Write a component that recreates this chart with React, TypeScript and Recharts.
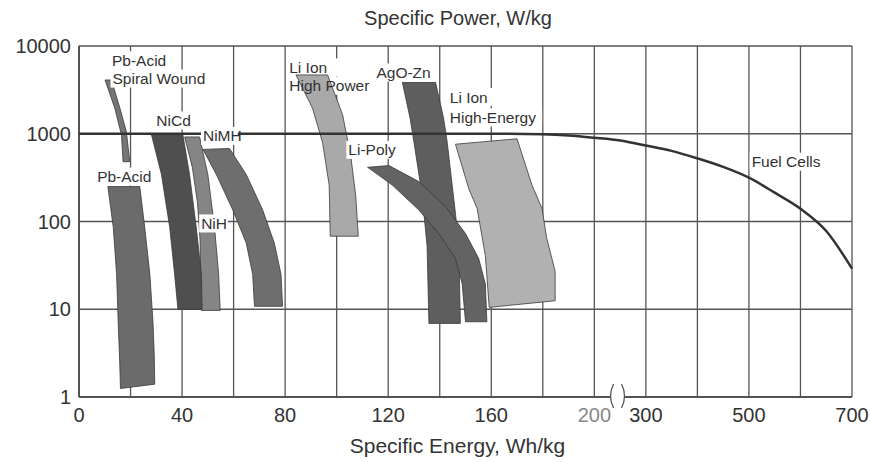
import { ScatterChart, Scatter, XAxis, YAxis, CartesianGrid, ReferenceDot, Customized } from 'recharts';

const FONT = '"Liberation Sans", Arial, Helvetica, sans-serif';
const INK = '#333';

// Band outlines: [specific energy Wh/kg, specific power W/kg],
// left edge top->bottom, then right edge bottom->top
const pbAcidSpiral = [[10.1, 4100], [13.9, 1950], [16.5, 960], [17.1, 480], [19.7, 480], [18.4, 1050], [15.9, 1950], [12.6, 4100]];
const pbAcid = [[11.2, 250], [13.3, 86], [14.6, 25], [15.2, 7.2], [15.8, 2.5], [16.1, 1.25], [29.4, 1.4], [29.2, 3], [28.7, 7.2], [27.5, 25], [25.5, 86], [23.6, 250]];
const niH = [[41.0, 920], [44.0, 412], [46.0, 163], [47.0, 60], [47.5, 9.7], [54.8, 9.7], [54.2, 25], [52.6, 86], [50.0, 344], [46.8, 920]];
const niCd = [[28.1, 980], [32.0, 344], [35.2, 86], [37.1, 25], [38.4, 10], [47.8, 10], [47.5, 25], [45.5, 86], [42.9, 344], [40.3, 980]];
const niMH = [[48.1, 663], [53.3, 344], [59.7, 135], [64.9, 57], [67.4, 25], [68.1, 10.8], [79.0, 10.8], [78.4, 25], [75.8, 57], [71.3, 135], [64.9, 344], [58.4, 680]];
const liIonPower = [[84.2, 4680], [90.6, 1960], [94.5, 800], [97.1, 260], [97.5, 68], [108.4, 68], [107.4, 196], [105.5, 550], [102.3, 1650], [96.5, 4680]];
const agoZn = [[125.5, 3840], [128.5, 1500], [130.0, 800], [133.2, 196], [135.1, 52], [135.8, 6.9], [148.0, 6.9], [147.4, 52], [146.1, 124], [142.9, 800], [141.5, 1500], [138.4, 3840]];
const liPoly = [[112.0, 415], [121.6, 260], [131.9, 135], [139.6, 73], [146.1, 38], [148.7, 19.5], [150.0, 7.2], [158.3, 7.2], [157.7, 19.5], [155.1, 38], [150.0, 73], [142.2, 148], [131.9, 285], [120.3, 434]];
const liIonEnergy = [[146.1, 760], [151.3, 235], [154.5, 141], [157.7, 41], [159.2, 10.5], [184.8, 12.5], [184.8, 27], [181.5, 65], [179.7, 141], [175.8, 260], [170.0, 876]];

const fuelCellEnergy = [0, 160, 180, 190, 200, 250, 300, 350, 400, 450, 500, 550, 600, 650, 700];
const fuelCellPower = [1000, 1000, 985, 955, 900, 837, 735, 638, 524, 419, 316, 213, 140, 78, 29];

const labelText = ['Pb-Acid', 'Spiral Wound', 'NiCd', 'NiMH', 'Pb-Acid', 'NiH', 'Li Ion', 'High Power', 'AgO-Zn', 'Li Ion', 'High-Energy', 'Li-Poly', 'Fuel Cells'];
const labelEnergy = [12.8, 13.0, 36.4, 54.5, 18.2, 52.2, 81.6, 81.6, 125, 143.9, 143.9, 115.7, 585];
const labelPower = [6870, 4250, 1415, 946, 325, 95, 5700, 3520, 4990, 2620, 1535, 656, 480];
const labelAnchor = ['start', 'start', 'middle', 'middle', 'middle', 'middle', 'start', 'start', 'middle', 'start', 'start', 'middle', 'middle'];
// white box drawn over the bands, or under them (the Li Ion High Power band shows through its label)
const labelBoxUnder = [false, false, false, false, false, false, true, true, false, false, false, false, false];

const X_TICKS = [0, 1, 2, 3, 4, 5, 6, 7, 8, 9, 10, 11, 12, 13, 14, 15];
const X_TICK_LABELS: Record<number, string> = { 0: '0', 2: '40', 4: '80', 6: '120', 8: '160', 10: '200', 11: '300', 13: '500', 15: '700' };
const Y_TICKS = [1, 10, 100, 1000, 10000];

// broken axis: 20 Wh/kg per grid step up to 200, then 100 Wh/kg per step
const toD = (wh: number) => (wh <= 200 ? wh / 20 : 10 + (wh - 200) / 100);
const toPts = (pts: number[][]) => pts.map(([x, y]) => ({ x: toD(x), y }));

const BANDS = [
  { name: 'pbAcidSpiral', pts: pbAcidSpiral, fill: '#757575' },
  { name: 'pbAcid', pts: pbAcid, fill: '#6b6b6b' },
  { name: 'niH', pts: niH, fill: '#858585' },
  { name: 'niCd', pts: niCd, fill: '#4f4f4f' },
  { name: 'niMH', pts: niMH, fill: '#6e6e6e' },
  { name: 'liIonPower', pts: liIonPower, fill: '#a9a9a9' },
  { name: 'agoZn', pts: agoZn, fill: '#5e5e5e' },
  { name: 'liPoly', pts: liPoly, fill: '#636363' },
  { name: 'liIonEnergy', pts: liIonEnergy, fill: '#b1b1b1' },
];

const fuelData = fuelCellEnergy.map((e, i) => ({ x: toD(e), y: fuelCellPower[i] }));
const labelData = labelText.map((t, i) => ({
  x: toD(labelEnergy[i]), y: labelPower[i], text: t, anchor: labelAnchor[i], under: labelBoxUnder[i],
}));
const underBoxData = labelData.filter((l) => l.under);

const noDot = () => <g />;

const LABEL_FS = 15.5;

const boxFor = (cx: number, payload: any) => {
  const w = payload.text.length * LABEL_FS * 0.53;
  const x0 = payload.anchor === 'middle' ? cx - w / 2 : cx;
  return { w, x0 };
};

const LabelBox = (props: any) => {
  const { cx, cy, payload } = props;
  const { w, x0 } = boxFor(cx, payload);
  return <rect x={x0 - 2} y={cy - 9} width={w + 4} height={18} fill="#fff" />;
};

const LabelShape = (props: any) => {
  const { cx, cy, payload } = props;
  const { x0 } = boxFor(cx, payload);
  return (
    <g>
      {!payload.under && <LabelBox {...props} />}
      <text x={x0} y={cy} dy="0.36em" fontSize={LABEL_FS} fontFamily={FONT} fill={INK}>
        {payload.text}
      </text>
    </g>
  );
};

const XTick = (props: any) => {
  const { x, y, payload } = props;
  const label = X_TICK_LABELS[payload.value] ?? '';
  return (
    <text x={x} y={y} dy={17} textAnchor="middle" fontSize={20} fontFamily={FONT} fill={payload.value === 10 ? '#888' : INK}>
      {label}
    </text>
  );
};

const BreakMark = (props: any) => {
  const { cx, cy } = props;
  return (
    <g>
      <rect x={cx - 7} y={cy - 3} width={14} height={6} fill="#fff" />
      <path d={`M ${cx - 4} ${cy - 13} Q ${cx - 10} ${cy - 1} ${cx - 4} ${cy + 11}`} fill="none" stroke="#555" strokeWidth={1.3} />
      <path d={`M ${cx + 4} ${cy - 13} Q ${cx + 10} ${cy - 1} ${cx + 4} ${cy + 11}`} fill="none" stroke="#555" strokeWidth={1.3} />
    </g>
  );
};

const TopTitle = () => (
  <text x={458} y={25} textAnchor="middle" fontSize={20} fontFamily={FONT} fill={INK}>
    Specific Power, W/kg
  </text>
);

export default function App() {
  return (
    <div style={{ position: 'absolute', left: 0, top: 0, background: '#fff' }}>
      <ScatterChart width={870} height={462} margin={{ top: 46, right: 18, bottom: 0, left: 0 }}>
        <CartesianGrid stroke="#555" strokeWidth={1.3} />
        <XAxis
          dataKey="x"
          type="number"
          domain={[0, 15]}
          ticks={X_TICKS}
          interval={0}
          tick={<XTick />}
          tickLine={false}
          axisLine={{ stroke: '#444', strokeWidth: 1.6 }}
          height={65}
          label={{ value: 'Specific Energy, Wh/kg', position: 'insideBottom', offset: 9, dx: -8, fill: INK, fontSize: 21, fontFamily: FONT }}
        />
        <YAxis
          dataKey="y"
          type="number"
          scale="log"
          domain={[1, 10000]}
          ticks={Y_TICKS}
          allowDataOverflow
          interval={0}
          width={79}
          tickLine={false}
          axisLine={{ stroke: '#444', strokeWidth: 1.6 }}
          tick={{ fill: INK, fontSize: 20, fontFamily: FONT }}
        />
        <Scatter data={underBoxData} shape={LabelBox} isAnimationActive={false} />
        {BANDS.map((b) => (
          <Scatter
            key={b.name}
            data={toPts(b.pts)}
            shape={noDot}
            isAnimationActive={false}
            line={(p: any) => (
              <polygon
                points={p.points.map((pt: any) => `${pt.x},${pt.y}`).join(' ')}
                fill={b.fill}
                stroke="#3a3a3a"
                strokeWidth={0.8}
              />
            )}
          />
        ))}
        <Scatter
          data={fuelData}
          shape={noDot}
          isAnimationActive={false}
          line={{ stroke: '#333', strokeWidth: 2.5 }}
          lineJointType="monotoneX"
        />
        <Scatter data={labelData} shape={LabelShape} isAnimationActive={false} />
        <ReferenceDot x={10.45} y={1} ifOverflow="visible" shape={BreakMark} />
        <Customized component={TopTitle} />
      </ScatterChart>
    </div>
  );
}
